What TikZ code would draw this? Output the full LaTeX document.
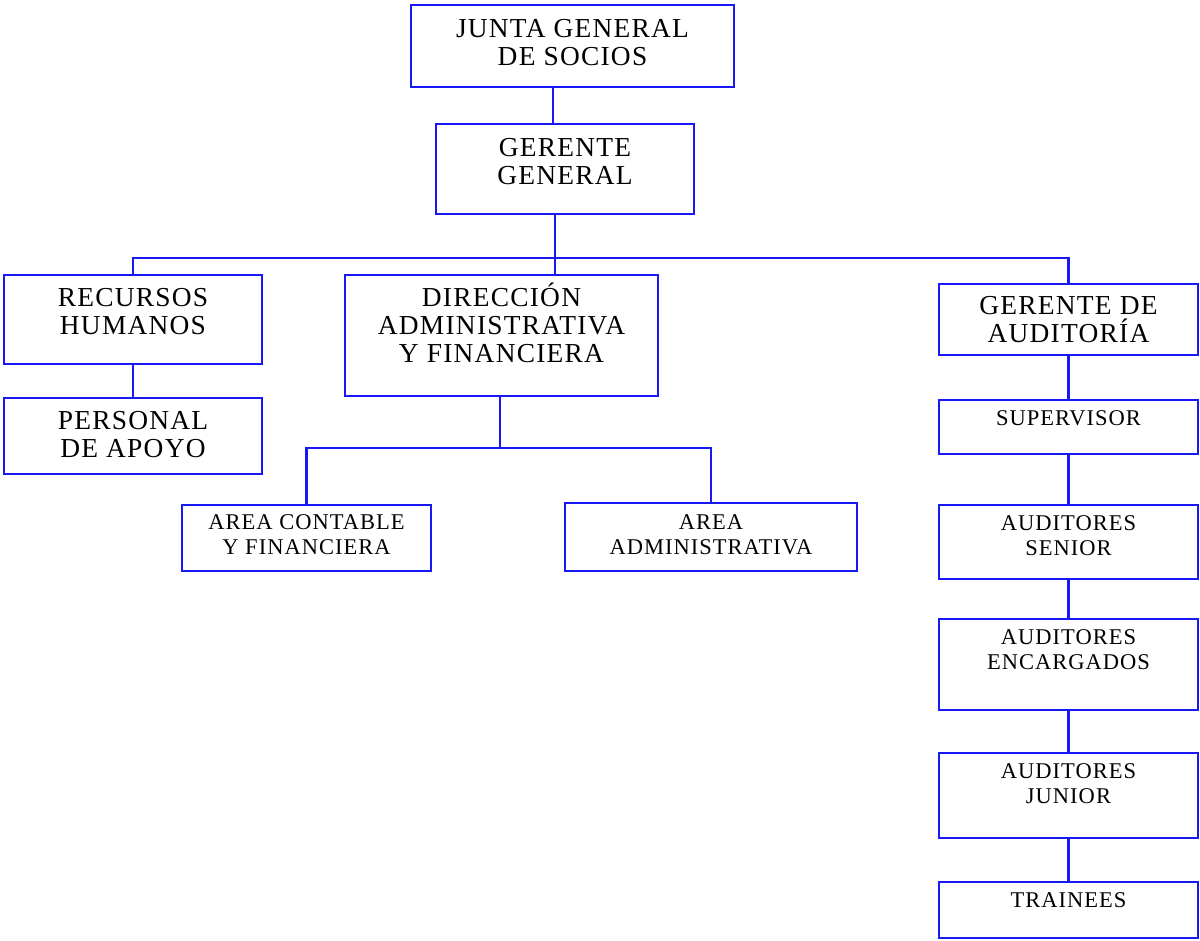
\documentclass[tikz,border=0pt]{standalone}
\usepackage{fontspec}
\setmainfont{Liberation Serif}[LetterSpace=4.5]
\usepackage{tikz}
\usetikzlibrary{positioning}
\definecolor{azul}{RGB}{25,25,245}
\newcommand{\grande}{\fontsize{19.5}{20}\selectfont}
\newcommand{\chica}{\fontsize{16}{17.8}\selectfont}
\tikzset{
	caja/.style 2 args={draw=azul, line width=1.6pt, inner sep=0pt,
		minimum width=#1*0.025cm, minimum height=#2*0.025cm},
	rotulo/.style={anchor=north, align=center, inner sep=0pt, yshift=-#1*0.025cm},
	rotulo/.default=13,
	linea/.style={azul, line width=1.6pt}
}

\begin{document}
\begin{tikzpicture}[x=0.025cm, y=-0.025cm]
\useasboundingbox (0,0) rectangle (1200,940);

% direccion
\node[caja={323}{82}, label={[rotulo=15, font=\grande]north:{JUNTA GENERAL\\DE SOCIOS}}] (jgs) at (572.5,46) {};
\node[caja={258}{90}, label={[rotulo=15, font=\grande]north:{GERENTE\\GENERAL}}] (gg) at (565,169) {};

% segundo nivel
\node[caja={258}{89}, label={[rotulo=14, font=\grande]north:{RECURSOS\\HUMANOS}}] (rh) at (133,319.5) {};
\node[caja={258}{76}, label={[rotulo=14, font=\grande]north:{PERSONAL\\DE APOYO}}] (pa) at (133,436) {};
\node[caja={313}{121}, label={[rotulo=9, font=\grande]north:{DIRECCIÓN\\ADMINISTRATIVA\\Y FINANCIERA}}] (daf) at (501.5,335.5) {};
\node[caja={249}{66}, label={[rotulo=10, font=\chica]north:{AREA CONTABLE\\Y FINANCIERA}}] (acf) at (306.5,538) {};
\node[caja={292}{68}, label={[rotulo=12, font=\chica]north:{AREA\\ADMINISTRATIVA}}] (aa) at (711,537) {};

% auditoria
\node[caja={259}{71}, label={[rotulo, font=\grande]north:{GERENTE DE\\AUDITORÍA}}] (ga) at (1068.5,319.5) {};
\node[caja={259}{54}, label={[rotulo=11, font=\chica]north:{SUPERVISOR}}] (sup) at (1068.5,427) {};
\node[caja={259}{74}, label={[rotulo=11, font=\chica]north:{AUDITORES\\SENIOR}}] (as) at (1068.5,542) {};
\node[caja={259}{91}, label={[rotulo=11, font=\chica]north:{AUDITORES\\ENCARGADOS}}] (ae) at (1068.5,664.5) {};
\node[caja={259}{85}, label={[rotulo=11, font=\chica]north:{AUDITORES\\JUNIOR}}] (aj) at (1068.5,795.5) {};
\node[caja={259}{56}, label={[rotulo=11, font=\chica]north:{TRAINEES}}] (tr) at (1068.5,910) {};

% conectores
\coordinate (eje) at (553,0);
\coordinate (bus) at (555,258);
\coordinate (sub) at (500,448);
\draw[linea] (eje |- jgs.south) -- (eje |- gg.north);
\draw[linea] (gg.south -| bus) -- (bus) -- (bus |- daf.north);
\draw[linea] (rh.north) |- (bus) -| (ga.north);
\draw[linea] (rh) -- (pa);
\draw[linea] (daf.south -| sub) -- (sub);
\draw[linea] (acf.north) |- (sub) -| (aa.north);
\draw[linea] (ga) -- (sup);
\draw[linea] (sup) -- (as);
\draw[linea] (as) -- (ae);
\draw[linea] (ae) -- (aj);
\draw[linea] (aj) -- (tr);

\end{tikzpicture}
\end{document}
